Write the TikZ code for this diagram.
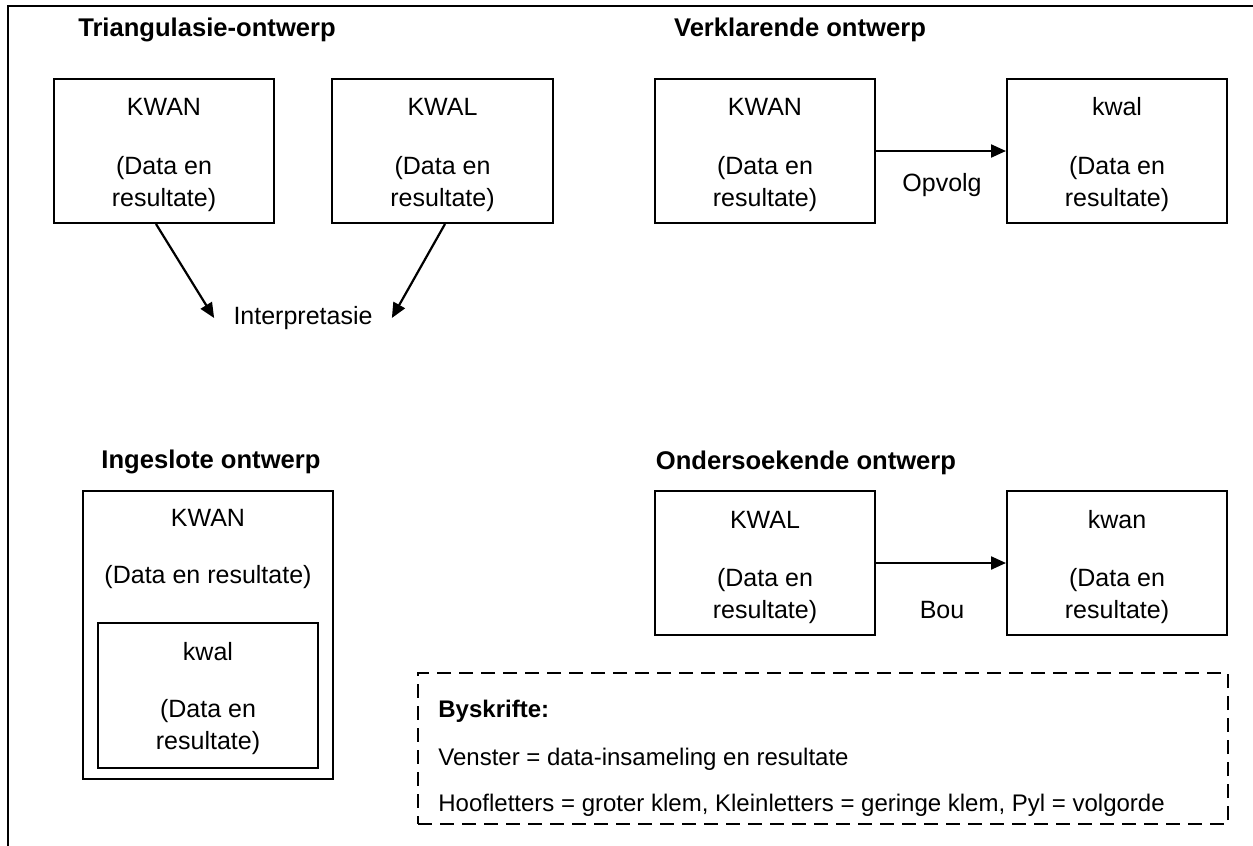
\documentclass[tikz,border=0pt]{standalone}
\usepackage{fontspec}
\setmainfont{Liberation Sans}
\usetikzlibrary{arrows.meta,calc}
\begin{document}
\begin{tikzpicture}[x=0.5pt,y=-0.5pt,
  every node/.style={font=\fontsize{12.5pt}{16pt}\selectfont, inner sep=0pt},
  box/.style={draw, line width=1pt},
  title/.style={font=\bfseries\fontsize{12.8pt}{16pt}\selectfont},
  leg/.style={font=\fontsize{12pt}{16pt}\selectfont, anchor=west},
  lbl/.style={align=center},
  arr/.style={line width=1.1pt, -{Triangle[length=7.5pt,width=6.5pt]}}]
\useasboundingbox (0,0) rectangle (1253,846);
\draw[line width=1pt] (8,846) -- (8,6) -- (1253,6);

% Triangulasie
\node[title] (tt) at (207,30) {Triangulasie-ontwerp};
\node[box, minimum width=110pt, minimum height=72pt] (t1) at (164,151) {};
\node (t1a) at (164,107) {KWAN};
\node[lbl] (t1b) at (164,184) {(Data en\\resultate)};
\node[box, minimum width=110.5pt, minimum height=72pt] (t2) at (442.5,151) {};
\node (t2a) at (442.5,107) {KWAL};
\node[lbl] (t2b) at (442.5,184) {(Data en\\resultate)};
\node[inner xsep=9.5pt] (ti) at (303,318) {Interpretasie};
\draw[arr] ([xshift=-4pt]t1.south) -- (ti.west);
\draw[arr] ([xshift=1.25pt]t2.south) -- (ti.east);

% Verklarende
\node[title] (vt) at (800,30) {Verklarende ontwerp};
\node[box, minimum width=110pt, minimum height=72pt] (v1) at (765,151) {};
\node (v1a) at (765,107) {KWAN};
\node[lbl] (v1b) at (765,184) {(Data en\\resultate)};
\node[box, minimum width=110pt, minimum height=72pt] (v2) at (1117,151) {};
\node (v2a) at (1117,107) {kwal};
\node[lbl] (v2b) at (1117,184) {(Data en\\resultate)};
\draw[arr] (v1.east) -- (v2.west);
\node (vo) at (942,185) {Opvolg};

% Ingeslote
\node[title] (it) at (211,462) {Ingeslote ontwerp};
\node[box, minimum width=125pt, minimum height=144pt] (i1) at (208,635) {};
\node (i1a) at (208,518) {KWAN};
\node (i1b) at (208,577) {(Data en resultate)};
\node[box, minimum width=110pt, minimum height=72.5pt] (i2) at (208,695.5) {};
\node (i2a) at (208,652) {kwal};
\node[lbl] (i2b) at (208,727) {(Data en\\resultate)};

% Ondersoekende
\node[title] (ot) at (806,463) {Ondersoekende ontwerp};
\node[box, minimum width=110pt, minimum height=72pt] (o1) at (765,563) {};
\node (o1a) at (765,520) {KWAL};
\node[lbl] (o1b) at (765,596) {(Data en\\resultate)};
\node[box, minimum width=110pt, minimum height=72pt] (o2) at (1117,563) {};
\node (o2a) at (1117,520) {kwan};
\node[lbl] (o2b) at (1117,596) {(Data en\\resultate)};
\draw[arr] (o1.east) -- (o2.west);
\node (ob) at (942,610) {Bou};

% Legend
\node[draw, dash pattern=on 7pt off 4pt, line width=0.8pt, minimum width=405pt, minimum height=75.5pt] (leg) at (823,748.5) {};
\node[leg, font=\bfseries\fontsize{12pt}{16pt}\selectfont] (l1) at (438,711) {Byskrifte:};
\node[leg] (l2) at (438,759) {Venster = data-insameling en resultate};
\node[leg] (l3) at (438,805) {Hoofletters = groter klem, Kleinletters = geringe klem, Pyl = volgorde};
\end{tikzpicture}
\end{document}
